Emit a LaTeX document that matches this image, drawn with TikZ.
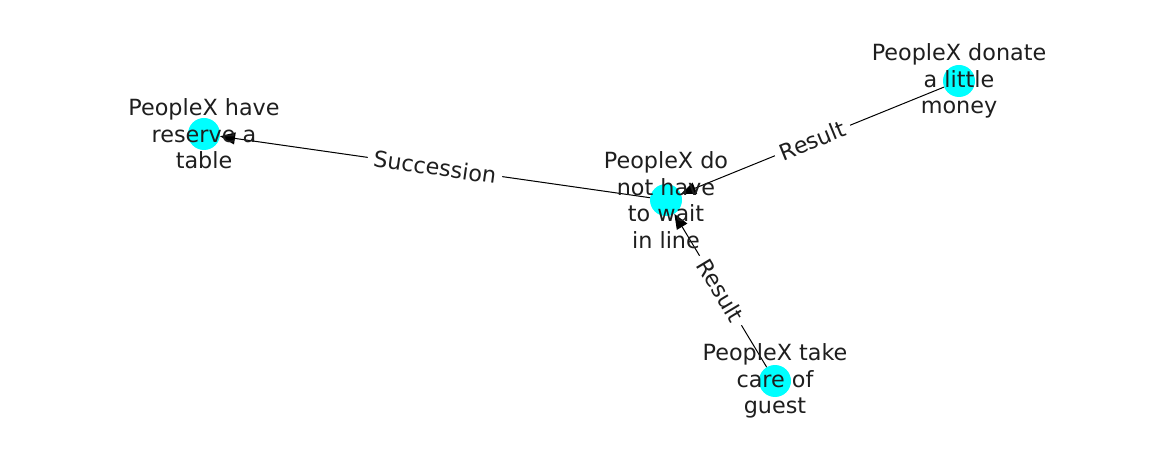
\documentclass[tikz,border=0pt]{standalone}
\usepackage{fontspec}
\setmainfont{DejaVu Sans}
\usetikzlibrary{arrows.meta}
\definecolor{nodecyan}{RGB}{0,255,255}
\definecolor{txt}{RGB}{30,30,30}
\begin{document}
\begin{tikzpicture}[x=1pt,y=-1pt,
  gnode/.style={circle,fill=nodecyan,minimum size=32pt,inner sep=0pt},
  glabel/.style={font=\fontsize{22.3}{26.5}\selectfont,align=center,text=txt,inner sep=0pt},
  gedge/.style={draw=black,line width=1pt,-{Stealth[length=15pt,width=12pt,inset=0pt]}},
  elabel/.style={fill=white,inner xsep=6pt,inner ysep=1pt,font=\fontsize{22.3}{26}\selectfont,text=txt}]
\useasboundingbox (0,0) rectangle (1162,462);
\node[gnode] (a) at (204,134) {};
\node[gnode] (b) at (666,200) {};
\node[gnode] (c) at (959,81) {};
\node[gnode] (d) at (775,381) {};
\draw[gedge] (b) -- (a);
\draw[gedge] (c) -- (b);
\draw[gedge] (d) -- (b);
\path (b) -- (a) node[pos=0.5,elabel,rotate=-8.1] {Succession};
\path (c) -- (b) node[pos=0.5,elabel,rotate=22.1] {Result};
\path (d) -- (b) node[pos=0.5,elabel,rotate=-58.9] {Result};
\node[glabel] at (a) {PeopleX have\\reserve a\\table};
\node[glabel] at (b) {PeopleX do\\not have\\to wait\\in line};
\node[glabel] at (c) {PeopleX donate\\a little\\money};
\node[glabel] at (d) {PeopleX take\\care of\\guest};
\end{tikzpicture}
\end{document}
